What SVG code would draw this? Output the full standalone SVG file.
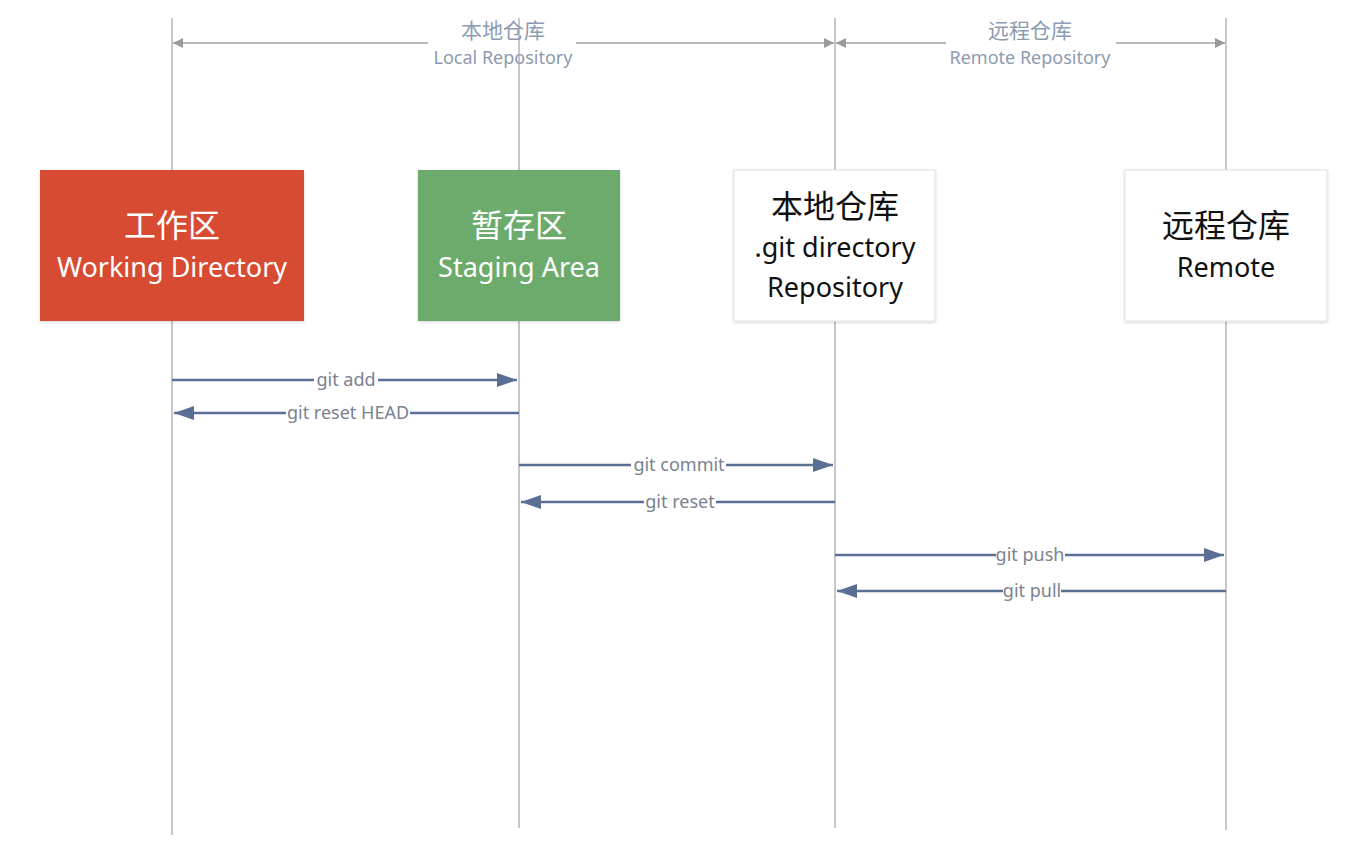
<svg xmlns="http://www.w3.org/2000/svg" width="1370" height="854" viewBox="0 0 1370 854">
<defs>
<marker id="dim" viewBox="0 0 10 10" refX="10" refY="5" markerWidth="10" markerHeight="10" markerUnits="userSpaceOnUse" orient="auto-start-reverse"><path d="M0,0 L10,5 L0,10 z" fill="#9a9a9a"/></marker>
<marker id="arr" viewBox="0 0 20 14" refX="20" refY="7" markerWidth="20" markerHeight="14" markerUnits="userSpaceOnUse" orient="auto"><path d="M0,0 L20,7 L0,14 z" fill="#5b6f95"/></marker>
<filter id="sh" x="-10%" y="-10%" width="120%" height="120%"><feDropShadow dx="0" dy="1" stdDeviation="1.5" flood-color="#000" flood-opacity="0.18"/></filter>
</defs>
<style>
.life{stroke:#b4b4b4;stroke-width:1.5;fill:none}
.dimline{stroke:#a0a0a0;stroke-width:1.5;fill:none}
.dimt{font-family:"Noto Sans","Noto Sans CJK SC",sans-serif;fill:#8c9bb1;text-anchor:middle}
.msg{stroke:#5b6f95;stroke-width:2.5;fill:none}
.msgt{font-family:"Noto Sans","Noto Sans CJK SC",sans-serif;font-size:18px;fill:#7a8290;text-anchor:middle}
.bt{font-family:"Noto Sans","Noto Sans CJK SC",sans-serif;text-anchor:middle}
.zh{font-size:32px}
.en{font-size:27px}
</style>
<rect width="1370" height="854" fill="#ffffff"/>
<g id="lifelines">
<line class="life" x1="172" y1="18" x2="172" y2="835"/>
<line class="life" x1="519" y1="18" x2="519" y2="828"/>
<line class="life" x1="835" y1="18" x2="835" y2="828"/>
<line class="life" x1="1226" y1="18" x2="1226" y2="830"/>
</g>
<g id="dimensions">
<line class="dimline" x1="173" y1="43" x2="428" y2="43" marker-start="url(#dim)"/>
<line class="dimline" x1="576" y1="43" x2="834" y2="43" marker-end="url(#dim)"/>
<text class="dimt" x="503" y="38" font-size="21">本地仓库</text>
<text class="dimt" x="503" y="64" font-size="18">Local Repository</text>
<line class="dimline" x1="836" y1="43" x2="946" y2="43" marker-start="url(#dim)"/>
<line class="dimline" x1="1116" y1="43" x2="1225" y2="43" marker-end="url(#dim)"/>
<text class="dimt" x="1030" y="38" font-size="21">远程仓库</text>
<text class="dimt" x="1030" y="64" font-size="18">Remote Repository</text>
</g>
<g id="working">
<rect x="40" y="170" width="264" height="151" fill="#d74c31" filter="url(#sh)"/>
<text class="bt zh" x="172" y="237" fill="#ffffff">工作区</text>
<text class="bt en" x="172" y="277" fill="#ffffff">Working Directory</text>
</g>
<g id="staging">
<rect x="418" y="170" width="202" height="151" fill="#6cab6c" filter="url(#sh)"/>
<text class="bt zh" x="519" y="237" fill="#ffffff">暂存区</text>
<text class="bt en" x="519" y="277" fill="#ffffff">Staging Area</text>
</g>
<g id="local">
<rect x="734" y="170" width="201" height="151" fill="#ffffff" stroke="#e2e2e2" stroke-width="1" filter="url(#sh)"/>
<text class="bt zh" x="835" y="218" fill="#111111">本地仓库</text>
<text class="bt en" x="835" y="257" fill="#111111">.git directory</text>
<text class="bt en" x="835" y="297" fill="#111111">Repository</text>
</g>
<g id="remote">
<rect x="1125" y="170" width="202" height="151" fill="#ffffff" stroke="#e2e2e2" stroke-width="1" filter="url(#sh)"/>
<text class="bt zh" x="1226" y="237" fill="#111111">远程仓库</text>
<text class="bt en" x="1226" y="277" fill="#111111">Remote</text>
</g>
<g id="connectors">
<line class="msg" x1="172" y1="380" x2="314" y2="380"/>
<line class="msg" x1="378" y1="380" x2="517" y2="380" marker-end="url(#arr)"/>
<text class="msgt" x="346" y="386">git add</text>
<line class="msg" x1="519" y1="413" x2="410" y2="413"/>
<line class="msg" x1="286" y1="413" x2="174" y2="413" marker-end="url(#arr)"/>
<text class="msgt" x="348" y="419">git reset HEAD</text>
<line class="msg" x1="519" y1="465" x2="631" y2="465"/>
<line class="msg" x1="726" y1="465" x2="833" y2="465" marker-end="url(#arr)"/>
<text class="msgt" x="679" y="471">git commit</text>
<line class="msg" x1="835" y1="502" x2="716" y2="502"/>
<line class="msg" x1="644" y1="502" x2="521" y2="502" marker-end="url(#arr)"/>
<text class="msgt" x="680" y="508">git reset</text>
<line class="msg" x1="835" y1="555" x2="996" y2="555"/>
<line class="msg" x1="1065" y1="555" x2="1224" y2="555" marker-end="url(#arr)"/>
<text class="msgt" x="1030" y="561">git push</text>
<line class="msg" x1="1226" y1="591" x2="1061" y2="591"/>
<line class="msg" x1="1003" y1="591" x2="837" y2="591" marker-end="url(#arr)"/>
<text class="msgt" x="1032" y="597">git pull</text>
</g>
</svg>
